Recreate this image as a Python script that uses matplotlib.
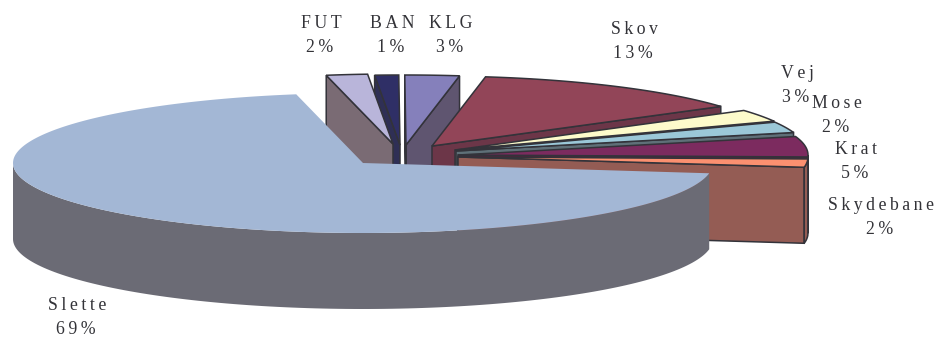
import numpy as np
import matplotlib
matplotlib.use("Agg")
import matplotlib.pyplot as plt

# values, the printed labels are rounded in the source
names = ["Slette", "Skydebane", "Krat", "Mose", "Vej", "Skov", "KLG", "BAN", "FUT"]
shares = [69.6, 1.9, 4.7, 2.5, 2.8, 13.0, 2.5, 1.1, 1.9]
printed = ["69%", "2%", "5%", "2%", "3%", "13%", "3%", "1%", "2%"]

# styling per slice
top_colors = ["#a3b7d5", "#fb9070", "#7c2b5f", "#9bc8d8", "#fdfbcb",
              "#924558", "#8580bb", "#2f2f66", "#b9b5da"]
wall_colors = ["#6b6b75", "#945c54", "#57203f", "#5f7078", "#8f8d70",
               "#6c3648", "#5f5570", "#2f2f55", "#7a6b74"]
apex_x = [363, 458, 458, 456, 455, 432, 406, 400, 393]
apex_y = [163, 157, 155, 151, 150, 146, 145, 145, 144]
label_x = [77, 881, 856, 837, 797, 634, 451, 392, 321]
label_y = [305, 206, 150, 103, 73, 29, 23, 23, 23]
# back slices first, Slette lies over everything
zorders = [10, 8, 7, 6, 5, 4, 3, 1, 2]

start_angle = 101
rx, ry = 350, 70
depth = 76
edge = "#33333a"
text_color = "#333338"

plt.rcParams["font.family"] = ["Liberation Serif", "DejaVu Serif"]


def tracked(s):
    """Spread the letters with thin spaces like the original labels."""
    return "\u2009".join(s)


def draw_slice(i, a0, a1):
    t = np.radians(np.linspace(a0, a1, 200))
    x = apex_x[i] + rx * np.cos(t)
    y = apex_y[i] - ry * np.sin(t)
    lw = 0 if i == 0 else 1.1
    ec = wall_colors[0] if i == 0 else edge

    # cut faces, only the ones turned towards the viewer
    for k, seen in [(0, np.cos(t[0]) > 0), (-1, np.cos(t[-1]) < 0)]:
        if seen and i != 0:
            ax.fill([apex_x[i], x[k], x[k], apex_x[i]],
                    [apex_y[i], y[k], y[k] + depth, apex_y[i] + depth],
                    fc=wall_colors[i], ec=ec, lw=lw, zorder=zorders[i])

    # outer wall, front half of the arc only
    front = np.sin(t) <= 0
    if front.any():
        ax.fill(np.r_[x[front], x[front][::-1]],
                np.r_[y[front], y[front][::-1] + depth],
                fc=wall_colors[i], ec=ec, lw=lw, zorder=zorders[i])

    # top
    ec_top = top_colors[0] if i == 0 else edge
    ax.fill(np.r_[apex_x[i], x], np.r_[apex_y[i], y],
            fc=top_colors[i], ec=ec_top, lw=lw, zorder=zorders[i])


fig = plt.figure(figsize=(9.38, 3.38), dpi=100)
ax = fig.add_axes([0, 0, 1, 1])
ax.set_xlim(0, 938)
ax.set_ylim(338, 0)
ax.axis("off")

edges = start_angle + np.r_[0, np.cumsum(shares)] * 3.6
for i in range(len(names)):
    draw_slice(i, edges[i], edges[i + 1])

for i in range(len(names)):
    ax.text(label_x[i], label_y[i], tracked(names[i]), ha="center", va="center",
            fontsize=12.8, color=text_color, zorder=20)
    ax.text(label_x[i] - 1, label_y[i] + 24, tracked(printed[i]), ha="center",
            va="center", fontsize=12.8, color=text_color, zorder=20)

fig.savefig("out.png", dpi=100)
